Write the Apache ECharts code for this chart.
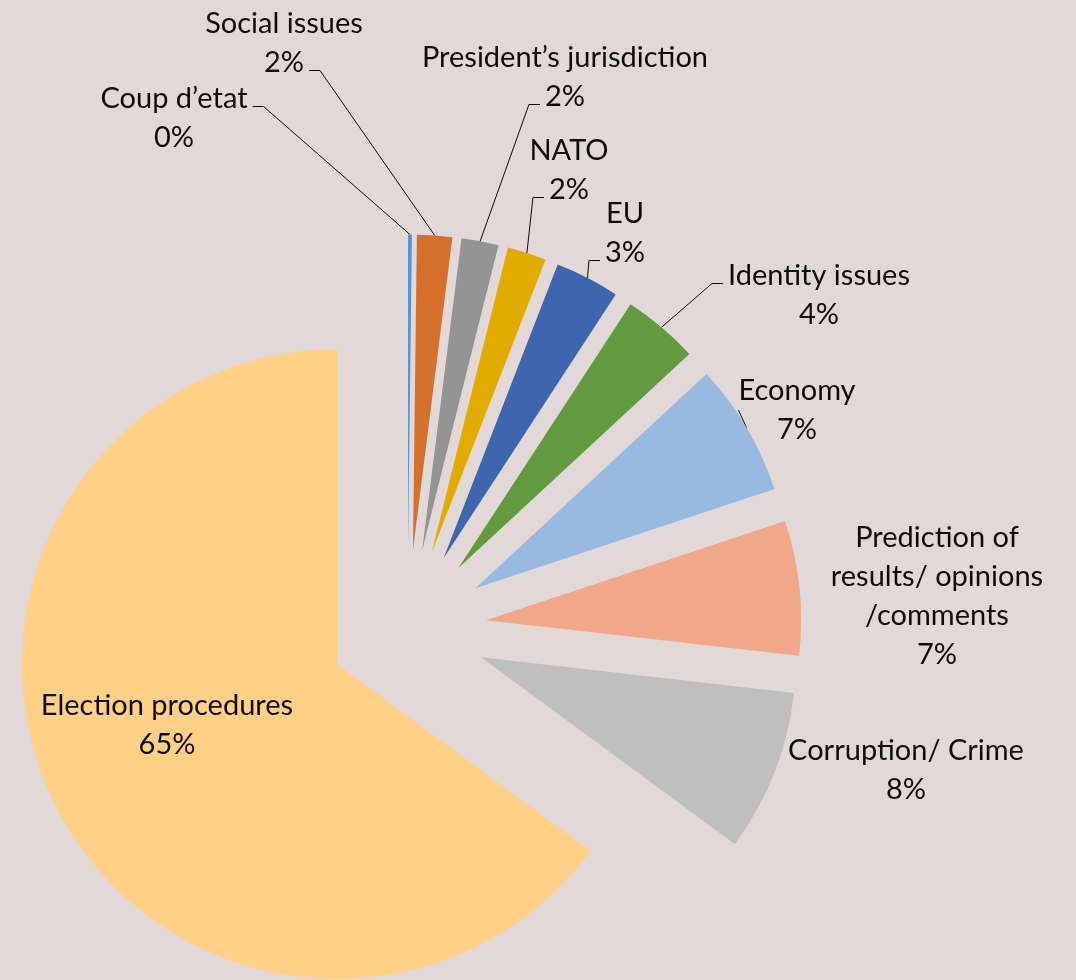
<!DOCTYPE html>
<html>
<head>
<meta charset="utf-8">
<script src="https://cdn.jsdelivr.net/npm/echarts@6/dist/echarts.min.js"></script>
<style>
  html, body { margin: 0; padding: 0; background: #e2d8d7; }
  #chart { width: 1076px; height: 980px; }
</style>
</head>
<body>
<div id="chart"></div>
<script>
// topics, clockwise from 12 o'clock
const topics = [
  "Coup d’etat",
  "Social issues",
  "President’s jurisdiction",
  "NATO",
  "EU",
  "Identity issues",
  "Economy",
  "Prediction of\nresults/ opinions\n/comments",
  "Corruption/ Crime",
  "Election procedures",
];
// share of each topic (%)
const shares = [0.2, 1.8, 1.9, 2.0, 3.3, 3.9, 6.8, 6.9, 8.3, 64.9];

const sliceColors = [
  "#5a95c9", "#d4702c", "#949494", "#e1ab00", "#3d66ae",
  "#629b3f", "#98b9e0", "#f1a88a", "#bfbfbf", "#ffd086",
];
// centre of each label block
const labelSpots = [
  [174, 118], [284, 43], [565, 77], [569, 170], [625, 233],
  [819, 295], [797, 410], [937, 596], [906, 770], [167, 725],
];
// which side / which text row the leader line hooks onto (null = let echarts decide)
const leaderHooks = [
  ["right", 0], ["right", 1], ["left", 1], ["left", 1], ["left", 1],
  ["left", 0], null, null, null, null,
];
// labels sitting next to / inside their slice get no leader line
const noLeader = [7, 8, 9];

const pieCenter = [407.5, 628.5];
const pieRadius = 315;
const explode = 79;
const fontSize = 29;
const lineHeight = 39;

let measureCtx = document.createElement("canvas").getContext("2d");
measureCtx.font = fontSize + "px Lato";

let chart = echarts.init(document.getElementById("chart"));

function placeLabel(params) {
  let i = params.dataIndex;
  let spot = labelSpots[i];
  let out = {
    x: spot[0],
    y: spot[1],
    align: "center",
    verticalAlign: "middle",
    hideOverlap: false,
  };
  let hook = leaderHooks[i];
  let pts = params.labelLinePoints;
  if (hook && pts && params.text) {
    let rows = params.text.split("\n");
    let w = measureCtx.measureText(rows[hook[1]]).width;
    let rowY = spot[1] + (hook[1] - (rows.length - 1) / 2) * lineHeight + 8;
    let sign = hook[0] === "right" ? 1 : -1;
    let endX = spot[0] + sign * (w / 2 + 5);
    out.labelLinePoints = [
      [pts[0][0], pts[0][1]],
      [endX + sign * 11, rowY],
      [endX, rowY],
    ];
  }
  return out;
}

// one pie per slice so every slice can be pulled out along its own bisector
let total = shares.reduce((a, b) => a + b, 0);
let before = 0;
let series = topics.map((topic, i) => {
  let mid = ((before + shares[i] / 2) / total) * Math.PI * 2;
  before += shares[i];
  return {
    type: "pie",
    center: [
      pieCenter[0] + explode * Math.sin(mid),
      pieCenter[1] - explode * Math.cos(mid),
    ],
    radius: [0, pieRadius],
    startAngle: 90,
    clockwise: true,
    percentPrecision: 0,
    avoidLabelOverlap: false,
    silent: true,
    itemStyle: { borderWidth: 0 },
    label: {
      formatter: "{b}\n{d}%",
      color: "#0d0d0d",
      fontSize: fontSize,
      lineHeight: lineHeight,
      align: "center",
    },
    labelLine: {
      length: 10,
      length2: 12,
      lineStyle: { color: "#0d0d0d", width: 1 },
    },
    labelLayout: placeLabel,
    data: topics.map((name, j) => ({
      name: name,
      value: shares[j],
      itemStyle: { color: j === i ? sliceColors[j] : "rgba(0,0,0,0)" },
      label: { show: j === i },
      labelLine: { show: j === i && noLeader.indexOf(j) < 0 },
    })),
  };
});

chart.setOption({
  backgroundColor: "#e2d8d7",
  animation: false,
  textStyle: { fontFamily: "Lato" },
  series: series,
});
</script>
</body>
</html>
